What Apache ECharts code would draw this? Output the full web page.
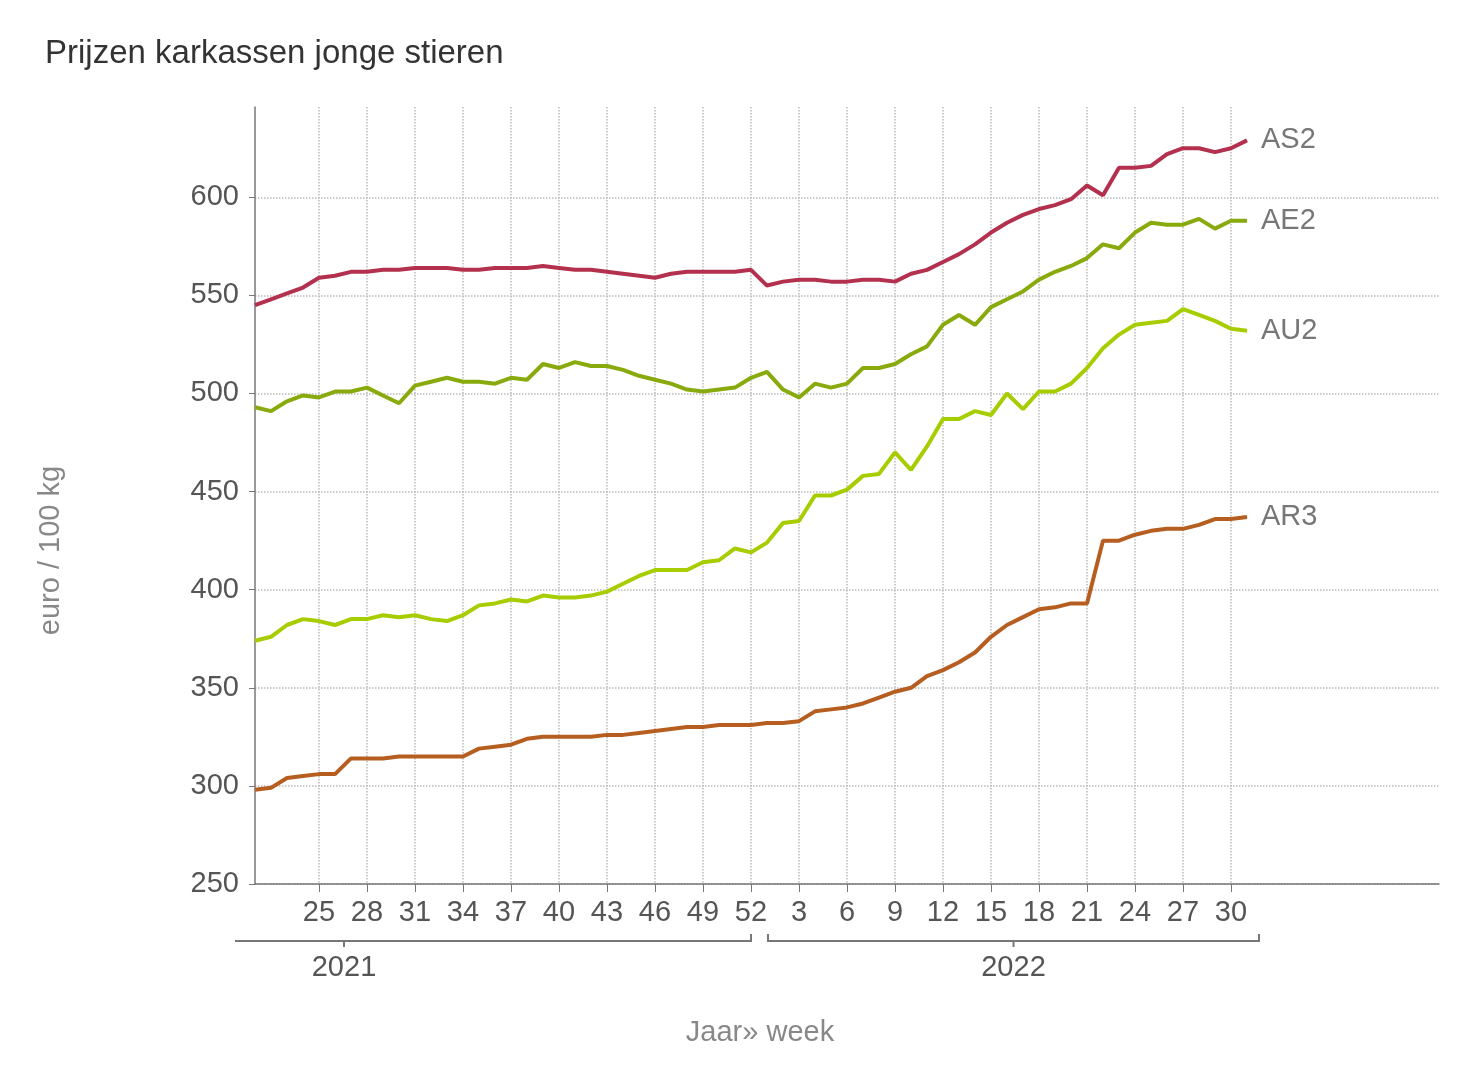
<!DOCTYPE html>
<html>
<head>
<meta charset="utf-8">
<script src="https://cdn.jsdelivr.net/npm/echarts@6/dist/echarts.min.js"></script>
<style>html,body{margin:0;padding:0;background:#fff}#echart{width:1466px;height:1092px}</style>
</head>
<body>
<div id="echart"></div>
<script>
// weeks: 2021 w21..w52, 2022 w1..w31
var weeks2021 = [];
for (var w = 21; w <= 52; w++) weeks2021.push(String(w));
var weeks2022 = [];
for (var w = 1; w <= 31; w++) weeks2022.push(String(w));
var years = ['2021', '2022'];

var as2 = [545,548,551,554,559,560,562,562,563,563,564,564,564,563,563,564,564,564,565,564,563,563,562,561,560,559,561,562,562,562,562,563,
  555,557,558,558,557,557,558,558,557,561,563,567,571,576,582,587,591,594,596,599,606,601,615,615,616,622,625,625,623,625,629];
var ae2 = [493,491,496,499,498,501,501,503,499,495,504,506,508,506,506,505,508,507,515,513,516,514,514,512,509,507,505,502,501,502,503,508,
  511,502,498,505,503,505,513,513,515,520,524,535,540,535,544,548,552,558,562,565,569,576,574,582,587,586,586,589,584,588,588];
var au2 = [374,376,382,385,384,382,385,385,387,386,387,385,384,387,392,393,395,394,397,396,396,397,399,403,407,410,410,410,414,415,421,419,
  424,434,435,448,448,451,458,459,470,461,473,487,487,491,489,500,492,501,501,505,513,523,530,535,536,537,543,540,537,533,532];
var ar3 = [298,299,304,305,306,306,314,314,314,315,315,315,315,315,319,320,321,324,325,325,325,325,326,326,327,328,329,330,330,331,331,331,
  332,332,333,338,339,340,342,345,348,350,356,359,363,368,376,382,386,390,391,393,393,425,425,428,430,431,431,433,436,436,437];

var nData = weeks2021.length + weeks2022.length;
var cats = weeks2021.concat(weeks2022);
for (var k = 0; k < 12; k++) cats.push('');

var FONT = 'Liberation Sans';
var chartDom = document.getElementById('echart');
var myChart = echarts.init(chartDom);

function showTick(i) { return i < nData && (i - 4) % 3 === 0 && i >= 4; }

function mk(name, data, color) {
  return {
    name: name, type: 'line', data: data, symbol: 'none',
    lineStyle: { width: 4, color: color }, itemStyle: { color: color },
    endLabel: { show: true, formatter: name, color: '#777', fontSize: 29, fontFamily: FONT, distance: 14 }
  };
}

var option = {
  animation: false,
  title: { text: 'Prijzen karkassen jonge stieren', left: 40, top: 32,
    textStyle: { fontFamily: FONT, fontSize: 33, fontWeight: 'normal', color: '#333' } },
  grid: { left: 255, right: 27, top: 107, bottom: 208 },
  xAxis: {
    type: 'category', data: cats, boundaryGap: false,
    name: 'Jaar» week', nameLocation: 'middle', nameGap: 134,
    nameTextStyle: { fontFamily: FONT, fontSize: 29, color: '#888', padding: [0, 174, 0, 0] },
    axisLine: { lineStyle: { color: '#777', width: 1.5 } },
    axisTick: { show: true, interval: showTick, length: 8, lineStyle: { color: '#777' } },
    axisLabel: { interval: showTick, fontFamily: FONT, fontSize: 29, color: '#555', margin: 14 },
    splitLine: { show: true, interval: showTick, lineStyle: { type: 'dotted', color: '#bbb', width: 1.5 } }
  },
  yAxis: {
    type: 'value', min: 250, max: 646, interval: 50,
    name: 'euro / 100 kg', nameLocation: 'middle', nameGap: 190,
    nameTextStyle: { fontFamily: FONT, fontSize: 29, color: '#888', padding: [0, 110, 0, 0] },
    axisLine: { show: true, lineStyle: { color: '#777', width: 1.5 } },
    axisTick: { show: true, inside: false, length: 6, lineStyle: { color: '#777' } },
    axisLabel: { fontFamily: FONT, fontSize: 29, color: '#555', margin: 16, showMaxLabel: false },
    splitLine: { showMaxLine: false, lineStyle: { type: 'dotted', color: '#bbb', width: 1.5 } }
  },
  series: [mk('AS2', as2, '#b3304e'), mk('AE2', ae2, '#89aa0c'), mk('AU2', au2, '#a6cd00'), mk('AR3', ar3, '#b55e20')]
};
myChart.setOption(option);

// year brackets under the week labels
var px = function (i) { return myChart.convertToPixel({ xAxisIndex: 0 }, i); };
var yB = 941;
var b1s = 235, b1e = px(weeks2021.length - 1);
var b2s = px(weeks2021.length) + 1, b2e = px(nData - 1) + 12;
var c1 = px(4) + 25, c2 = (b2s + b2e) / 2;
var stroke = { stroke: '#777', lineWidth: 2, fill: null };
var txt = { fontFamily: FONT, fontSize: 29, fill: '#555', align: 'center' };
myChart.setOption({
  graphic: [
    { type: 'polyline', shape: { points: [[b1s, yB], [b1e, yB], [b1e, yB - 7]] }, style: stroke, silent: true },
    { type: 'line', shape: { x1: c1, y1: yB, x2: c1, y2: yB + 6 }, style: stroke },
    { type: 'polyline', shape: { points: [[b2s, yB - 7], [b2s, yB], [b2e, yB], [b2e, yB - 7]] }, style: stroke, silent: true },
    { type: 'line', shape: { x1: c2, y1: yB, x2: c2, y2: yB + 6 }, style: stroke },
    { type: 'text', x: c1, y: 953, style: Object.assign({ text: years[0] }, txt) },
    { type: 'text', x: c2, y: 953, style: Object.assign({ text: years[1] }, txt) }
  ]
});

window.addEventListener('resize', function () { myChart.resize(); });
</script>
</body>
</html>
